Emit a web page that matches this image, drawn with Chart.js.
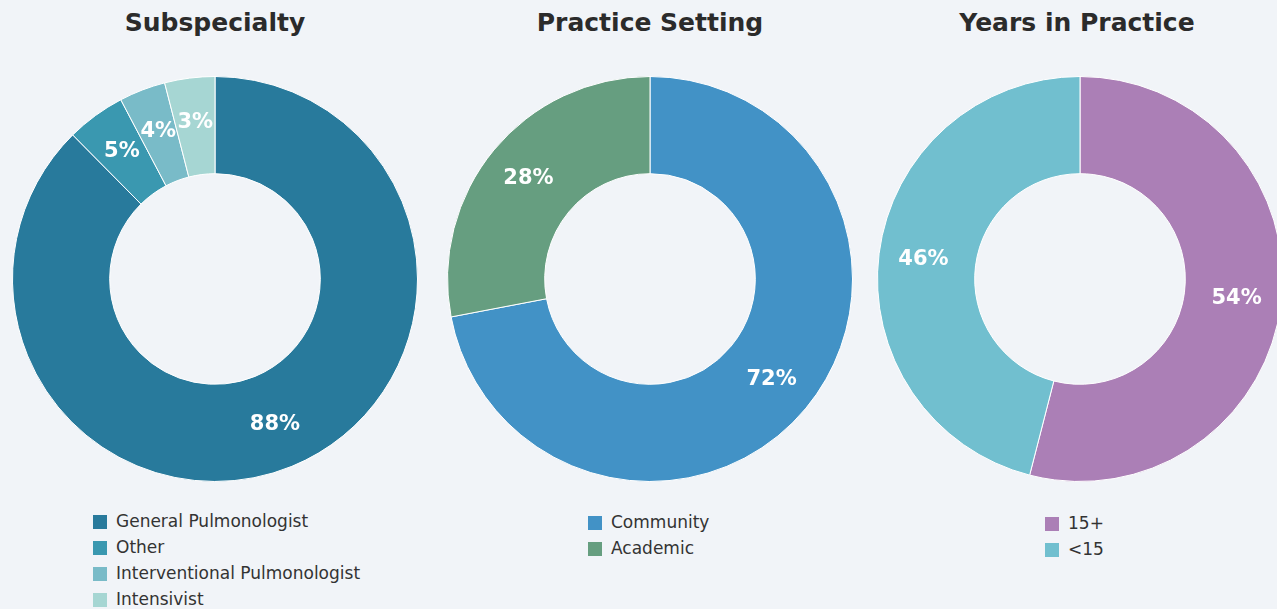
<!DOCTYPE html>
<html>
<head>
<meta charset="utf-8">
<script src="https://cdn.jsdelivr.net/npm/chart.js@4"></script>
<style>
  html, body { margin: 0; padding: 0; background: #f1f4f8; }
  body { width: 1277px; height: 609px; position: relative; overflow: hidden; font-family: "DejaVu Sans", Verdana, sans-serif; }
  .title { position: absolute; top: 8px; width: 440px; margin-left: -220px; text-align: center; font-weight: bold; font-size: 25px; color: #2b2b2b; }
  .wrap { position: absolute; top: 76px; width: 406px; height: 406px; }
  .legend { position: absolute; top: 510px; list-style: none; margin: 0; padding: 0; font-size: 17px; color: #333; }
  .legend li { height: 26px; line-height: 22px; white-space: nowrap; }
  .legend i { display: inline-block; width: 14px; height: 14px; margin-right: 9px; vertical-align: -2px; }
</style>
</head>
<body>
<div class="title" style="left:215px">Subspecialty</div>
<div class="title" style="left:650px">Practice Setting</div>
<div class="title" style="left:1077px">Years in Practice</div>

<div class="wrap" style="left:12px"><canvas id="c1"></canvas></div>
<div class="wrap" style="left:447px"><canvas id="c2"></canvas></div>
<div class="wrap" style="left:877px"><canvas id="c3"></canvas></div>

<ul class="legend" id="l1" style="left:93px"></ul>
<ul class="legend" id="l2" style="left:588px;top:511px"></ul>
<ul class="legend" id="l3" style="left:1045px;top:512px"></ul>

<script>
// slice sizes, with the printed percentages
const subLabels = ['General Pulmonologist', 'Other', 'Interventional Pulmonologist', 'Intensivist'];
const subValues = [87.6, 4.7, 3.7, 4.0];
const subText = ['88%', '5%', '4%', '3%'];
const subColors = ['#287a9c', '#3a98b0', '#79bbc8', '#a6d6d3'];

const settingLabels = ['Community', 'Academic'];
const settingValues = [72, 28];
const settingText = ['72%', '28%'];
const settingColors = ['#4292c6', '#669e80'];

const yearsLabels = ['15+', '<15'];
const yearsValues = [54, 46];
const yearsText = ['54%', '46%'];
const yearsColors = ['#ab7fb6', '#71bfcf'];

const pctLabels = {
  id: 'pctLabels',
  afterDatasetsDraw(chart, args, opts) {
    const { ctx } = chart;
    ctx.save();
    ctx.fillStyle = '#ffffff';
    ctx.font = 'bold 21px "DejaVu Sans", Verdana, sans-serif';
    ctx.textAlign = 'center';
    ctx.textBaseline = 'middle';
    chart.getDatasetMeta(0).data.forEach((arc, i) => {
      const { x, y, startAngle, endAngle, innerRadius, outerRadius } = arc.getProps(
        ['x', 'y', 'startAngle', 'endAngle', 'innerRadius', 'outerRadius'], true);
      const mid = (startAngle + endAngle) / 2;
      const r = innerRadius + (outerRadius - innerRadius) * 0.54;
      ctx.fillText(opts.text[i], x + Math.cos(mid) * r, y + Math.sin(mid) * r);
    });
    ctx.restore();
  },
};

function makeDoughnut(id, legendId, labels, values, text, colors) {
  new Chart(document.getElementById(id), {
    type: 'doughnut',
    data: {
      labels,
      datasets: [{ data: values, backgroundColor: colors, borderColor: '#ffffff', borderWidth: 1 }],
    },
    options: {
      responsive: true,
      maintainAspectRatio: false,
      animation: false,
      cutout: '52%',
      layout: { padding: 0 },
      plugins: {
        legend: { display: false },
        tooltip: { enabled: false },
        pctLabels: { text },
      },
    },
    plugins: [pctLabels],
  });
  document.getElementById(legendId).innerHTML = labels
    .map((l, i) => `<li><i style="background:${colors[i]}"></i>${l.replace('<', '&lt;')}</li>`)
    .join('');
}

makeDoughnut('c1', 'l1', subLabels, subValues, subText, subColors);
makeDoughnut('c2', 'l2', settingLabels, settingValues, settingText, settingColors);
makeDoughnut('c3', 'l3', yearsLabels, yearsValues, yearsText, yearsColors);
</script>
</body>
</html>
